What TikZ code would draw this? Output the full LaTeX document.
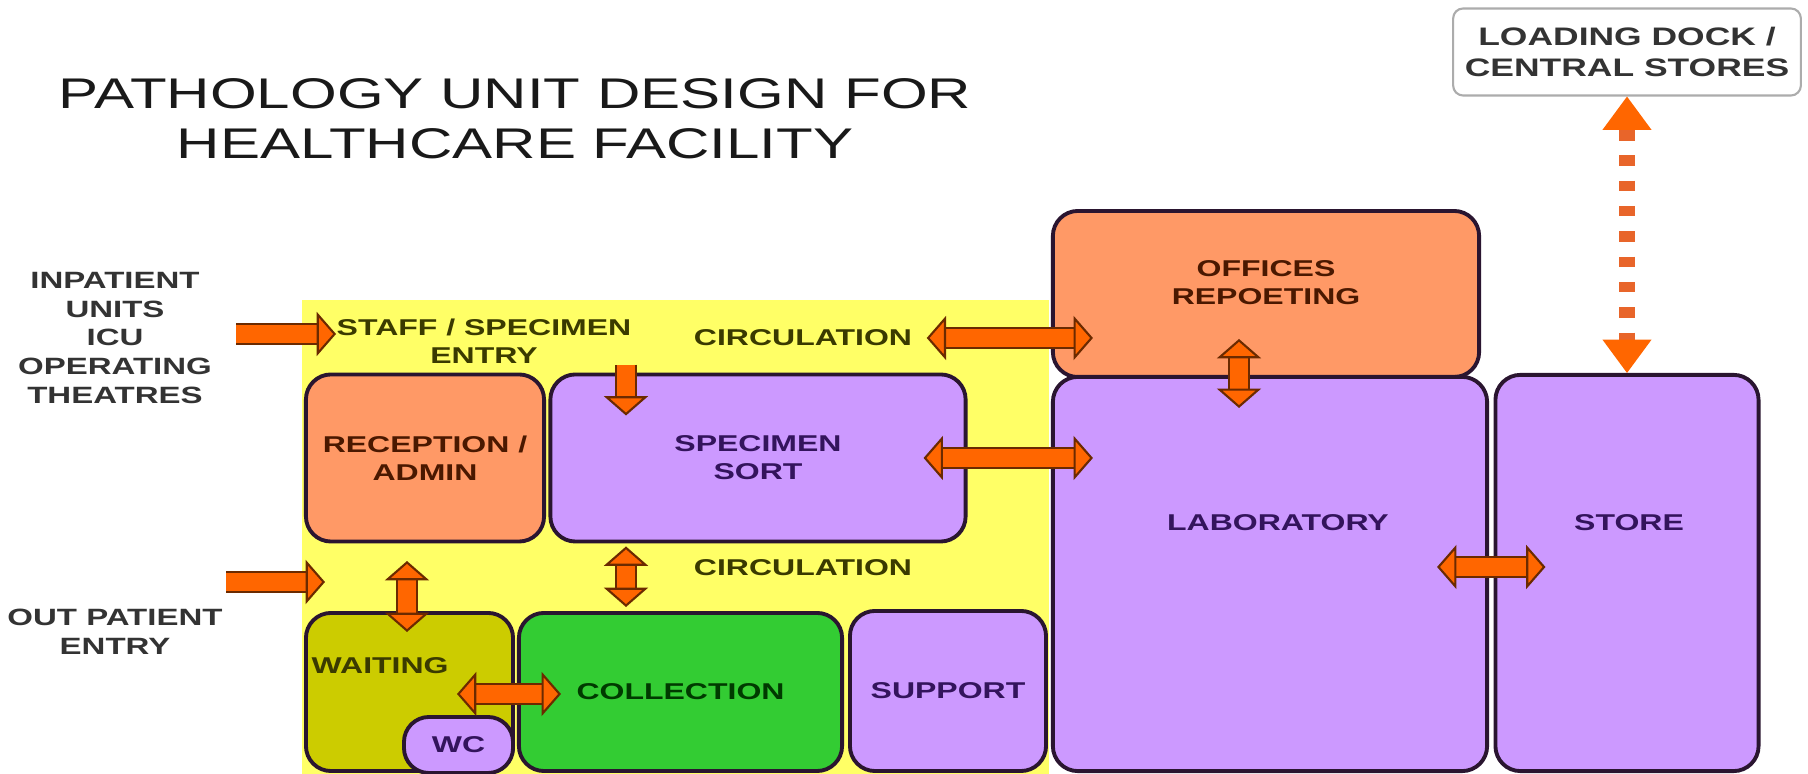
\documentclass[tikz,border=0pt]{standalone}
\usepackage{fontspec}
\setmainfont{Liberation Sans}
\newfontfamily\widefont[FakeStretch=1.4]{Liberation Sans}
\usetikzlibrary{arrows.meta, calc}

\definecolor{circyellow}{HTML}{FFFF66}
\definecolor{officeorange}{HTML}{FF9966}
\definecolor{labpurple}{HTML}{CC99FF}
\definecolor{collectgreen}{HTML}{33CC33}
\definecolor{waitolive}{HTML}{CCCC00}
\definecolor{arrowfill}{HTML}{FF6600}
\definecolor{arrowedge}{HTML}{6B2A00}
\definecolor{dashorange}{HTML}{E8652A}
\definecolor{roomedge}{HTML}{2A1530}
\definecolor{browntext}{HTML}{4A1800}
\definecolor{purpletext}{HTML}{33145C}
\definecolor{greentext}{HTML}{003A00}
\definecolor{olivetext}{HTML}{3A3A00}

\begin{document}
\begin{tikzpicture}[x=0.01cm, y=-0.01cm,
                    room/.style={draw=roomedge, line width=1.1pt, rounded corners=0.25cm, align=center, inner sep=0pt, font=\widefont\bfseries\fontsize{6.5}{8}\selectfont},
                    roomtext/.style={align=center, inner sep=0pt, font=\widefont\bfseries\fontsize{6.5}{8}\selectfont},
                    sidetext/.style={align=center, inner sep=0pt, text=black!80, font=\widefont\bfseries\fontsize{6.7}{8.2}\selectfont},
                    blockarrow/.style={arrowfill, line width=5pt, -{Triangle[width=12.5pt,length=5.5pt,line width=0.6pt,color=arrowedge,fill=arrowfill]},
                                       preaction={draw=arrowedge, line width=6pt, -, shorten >=5pt}},
                    dblarrow/.style={arrowfill, line width=5pt, {Triangle[width=12.5pt,length=5.5pt,line width=0.6pt,color=arrowedge,fill=arrowfill]}-{Triangle[width=12.5pt,length=5.5pt,line width=0.6pt,color=arrowedge,fill=arrowfill]},
                                     preaction={draw=arrowedge, line width=6pt, -, shorten <=5pt, shorten >=5pt}},
                    dockarrow/.style={dashorange, line width=4.5pt, dash pattern=on 3pt off 4.2pt,
                                      {Triangle[width=14pt,length=9.5pt,line width=0pt,color=arrowfill,fill=arrowfill]}-{Triangle[width=14pt,length=9.5pt,line width=0pt,color=arrowfill,fill=arrowfill]}}]
  \useasboundingbox (0,0) rectangle (1808,774);
  \fill[circyellow] (302,300) rectangle (1049,774);

  \node[align=center, text=black!90, font=\widefont\fontsize{12.2}{14.2}\selectfont] (title) at (515,119) {PATHOLOGY UNIT DESIGN FOR\\HEALTHCARE FACILITY};
  \node[draw=gray!65, line width=0.6pt, rounded corners=0.1cm, fill=white, minimum width=3.4cm, minimum height=0.87cm, align=center, text=black!80,
        font=\widefont\bfseries\fontsize{7.2}{8.8}\selectfont] (dock) at (1627,52) {LOADING DOCK /\\CENTRAL STORES};

  \node[sidetext] (inpat) at (115,338) {INPATIENT\\UNITS\\ICU\\OPERATING\\THEATRES};
  \node[sidetext] (outpat) at (115,632) {OUT PATIENT\\ENTRY};

  \node[roomtext, text=olivetext] (staff) at (484,341) {STAFF / SPECIMEN\\ENTRY};
  \node[roomtext, text=olivetext] (circtop) at (803,338) {CIRCULATION};
  \node[roomtext, text=olivetext] (circlow) at (803,568) {CIRCULATION};

  \node[room, fill=officeorange, text=browntext, minimum width=2.38cm, minimum height=1.67cm] (reception) at (425,458) {RECEPTION /\\ADMIN};
  \node[room, fill=labpurple, text=purpletext, minimum width=4.15cm, minimum height=1.67cm] (sort) at (758,458) {SPECIMEN\\SORT};
  \node[room, fill=waitolive, minimum width=2.07cm, minimum height=1.58cm] (waiting) at (409.5,692) {};
  \node[roomtext, text=olivetext, anchor=west] (waitlbl) at (311,666) {WAITING};
  \node[room, fill=labpurple, text=purpletext, minimum width=1.09cm, minimum height=0.56cm] (wc) at (458.5,745) {WC};
  \node[room, fill=collectgreen, text=greentext, minimum width=3.23cm, minimum height=1.58cm] (collect) at (680.5,692) {COLLECTION};
  \node[room, fill=labpurple, text=purpletext, minimum width=1.96cm, minimum height=1.6cm] (support) at (948,691) {SUPPORT};
  \node[room, fill=officeorange, minimum width=4.26cm, minimum height=1.66cm] (offices) at (1266,294) {};
  \node[roomtext, text=browntext] (officetxt) at (1266,283) {OFFICES\\REPOETING};
  \node[room, fill=labpurple, minimum width=4.34cm, minimum height=3.94cm] (lab) at (1270,574) {};
  \node[roomtext, text=purpletext] (labtxt) at (1278,523) {LABORATORY};
  \node[room, fill=labpurple, minimum width=2.63cm, minimum height=3.96cm] (store) at (1627,573) {};
  \node[roomtext, text=purpletext] (storetxt) at (1629,523) {STORE};

  \coordinate (inA) at (236,334);
  \coordinate (outA) at (226,582);
  \coordinate (outB) at (325,582);

  \draw[blockarrow] (inA) -- (inA -| staff.west);
  \draw[blockarrow] (outA) -- (outB);
  \draw[blockarrow] ($(sort.north)+(-132,-8)$) -- ($(sort.north)+(-132,43)$);
  \draw[dblarrow] ($(circtop.east)+(14,0)$) -- ($(circtop.east -| offices.west)+(42,0)$);
  \draw[dblarrow] ($(sort.east)+(-44,0)$) -- ($(sort.east -| lab.west)+(42,0)$);
  \draw[dblarrow] ($(sort.south)+(-132,3)$) -- ($(collect.north)+(-54.5,-4)$);
  \draw[dblarrow] ($(waiting.north)+(-2.5,-50)$) -- ($(waiting.north)+(-2.5,21)$);
  \draw[dblarrow] ($(waiting.east)+(-58,2)$) -- ($(collect.west)+(44,2)$);
  \draw[dblarrow] ($(offices.south)+(-27,-40)$) -- ($(offices.south)+(-27,29)$);
  \draw[dblarrow] ($(lab.east)+(-52,-7)$) -- ($(store.west)+(52,-6)$);
  \draw[dockarrow] (dock.south) -- (store.north);
\end{tikzpicture}
\end{document}
